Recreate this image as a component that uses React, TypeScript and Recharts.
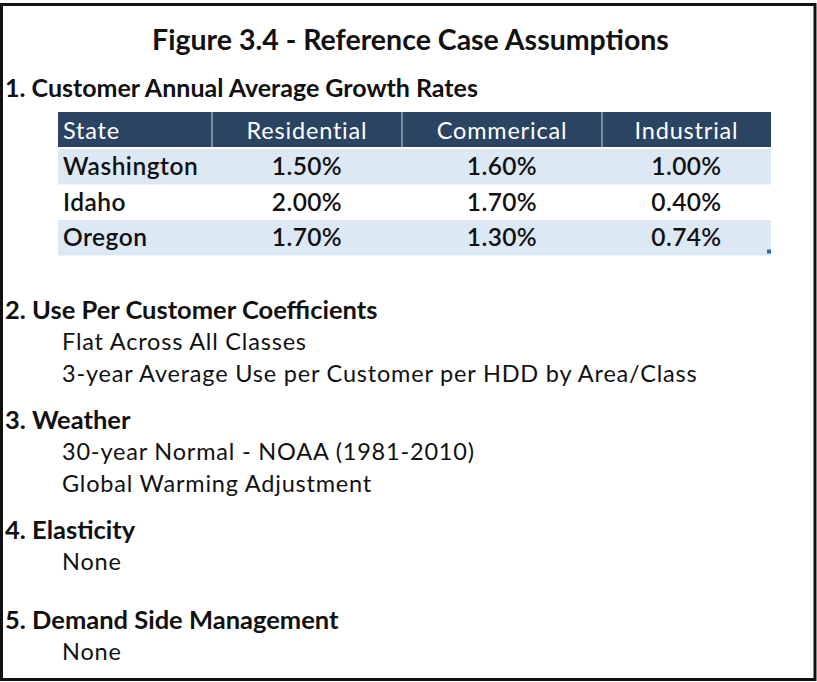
import { Surface, Layer, Text, Rectangle } from "recharts";

const title = "Figure 3.4 - Reference Case Assumptions";
const tableHeading = "1. Customer Annual Average Growth Rates";
const columns = ["State", "Residential", "Commerical", "Industrial"];
const states = ["Washington", "Idaho", "Oregon"];
const residential = [1.5, 2.0, 1.7];
const commercial = [1.6, 1.7, 1.3];
const industrial = [1.0, 0.4, 0.74];

const headings = [
  "2. Use Per Customer Coefficients",
  "3. Weather",
  "4. Elasticity",
  "5. Demand Side Management",
];
const sectionItems = [
  ["Flat Across All Classes", "3-year Average Use per Customer per HDD by Area/Class"],
  ["30-year Normal - NOAA (1981-2010)", "Global Warming Adjustment"],
  ["None"],
  ["None"],
];

const W = 817;
const H = 682;
const FONT = "Lato, 'Open Sans', sans-serif";
const NAVY = "#2b4462";
const BAND = "#dce8f4";

// table geometry
const colEdges = [58, 212, 402, 602, 771];
const headerTop = 112;
const headerH = 35;
const rowTop = 149;
const rowH = 35.5;

// y of each heading line, then each item line below it
const headingY = [310, 420, 530, 620];
const itemGap = 32;

const pct = (v: number) => `${v.toFixed(2)}%`;

export default function App() {
  const values = [residential, commercial, industrial];
  return (
    <div style={{ position: "absolute", left: 0, top: 0, width: W, height: H, background: "#fff" }}>
      <Surface width={W} height={H} viewBox={{ x: 0, y: 0, width: W, height: H }}>
        <Rectangle x={1.5} y={4.5} width={W - 3.5} height={H - 7} fill="#fff" stroke="#111" strokeWidth={3} />

        <Text x={W / 2 + 2} y={40} textAnchor="middle" verticalAnchor="middle"
          style={{ fontFamily: FONT, fontWeight: 700, fontSize: 28.5, fill: "#111" }}>
          {title}
        </Text>

        <Text x={5} y={88} verticalAnchor="middle"
          style={{ fontFamily: FONT, fontWeight: 700, fontSize: 25, fill: "#111" }}>
          {tableHeading}
        </Text>

        {/* table */}
        <Layer>
          <Rectangle x={colEdges[0]} y={headerTop} width={colEdges[4] - colEdges[0]} height={headerH} fill={NAVY} />
          {colEdges.slice(1, 4).map((x) => (
            <line key={x} x1={x} x2={x} y1={headerTop} y2={headerTop + headerH} stroke="#c9d4e0" strokeWidth={1} />
          ))}
          {columns.map((c, i) => (
            <Text key={c}
              x={i === 0 ? colEdges[0] + 5 : (colEdges[i] + colEdges[i + 1]) / 2}
              y={headerTop + headerH / 2 + 1}
              textAnchor={i === 0 ? "start" : "middle"} verticalAnchor="middle"
              style={{ fontFamily: FONT, fontSize: 23.5, fill: "#fff", letterSpacing: 0.8 }}>
              {c}
            </Text>
          ))}
          {states.map((s, r) => {
            const y = rowTop + r * rowH;
            return (
              <Layer key={s}>
                {r % 2 === 0 && (
                  <Rectangle x={colEdges[0]} y={y} width={colEdges[4] - colEdges[0]} height={rowH} fill={BAND} />
                )}
                <Text x={colEdges[0] + 5} y={y + rowH / 2} verticalAnchor="middle"
                  style={{ fontFamily: FONT, fontSize: 24.5, fontWeight: 600, fill: "#111", letterSpacing: 0.5 }}>
                  {s}
                </Text>
                {values.map((vals, c) => (
                  <Text key={c} x={(colEdges[c + 1] + colEdges[c + 2]) / 2} y={y + rowH / 2}
                    textAnchor="middle" verticalAnchor="middle"
                    style={{ fontFamily: FONT, fontSize: 24.5, fontWeight: 600, fill: "#111", letterSpacing: 0.4 }}>
                    {pct(vals[r])}
                  </Text>
                ))}
              </Layer>
            );
          })}
          <Rectangle x={colEdges[4] - 4} y={rowTop + 3 * rowH - 6} width={4} height={4} fill="#2e6db4" />
        </Layer>

        {headings.map((h, i) => (
          <Layer key={h}>
            <Text x={5} y={headingY[i]} verticalAnchor="middle"
              style={{ fontFamily: FONT, fontWeight: 700, fontSize: 25.5, fill: "#111" }}>
              {h}
            </Text>
            {sectionItems[i].map((t, j) => (
              <Text key={t + j} x={62} y={headingY[i] + itemGap * (j + 1)} verticalAnchor="middle"
                style={{ fontFamily: FONT, fontSize: 23.5, fill: "#111", letterSpacing: 0.8 }}>
                {t}
              </Text>
            ))}
          </Layer>
        ))}
      </Surface>
    </div>
  );
}
